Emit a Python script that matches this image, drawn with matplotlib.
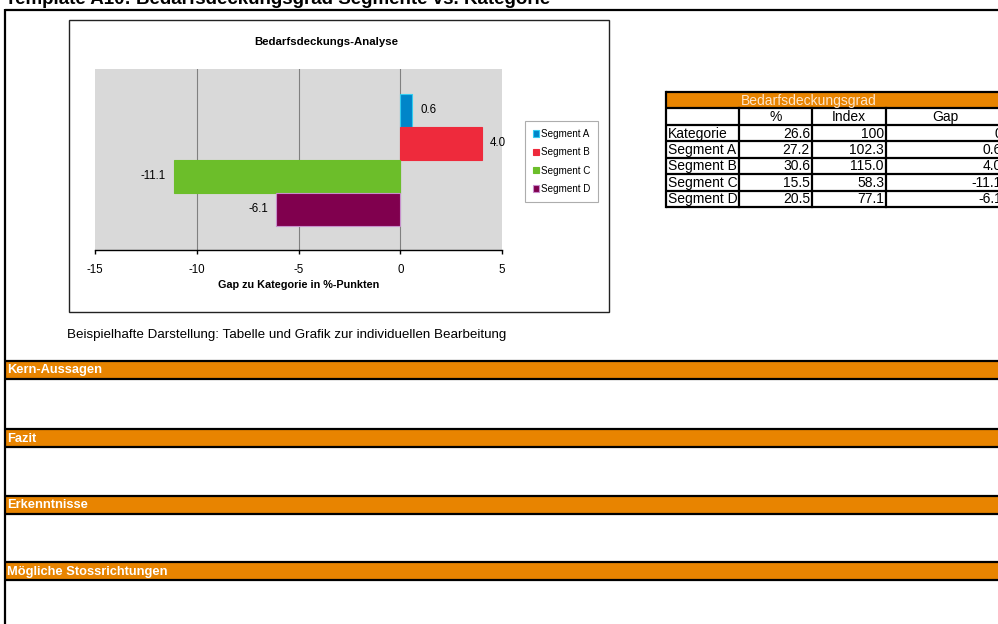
import matplotlib.pyplot as plt
from matplotlib.patches import Rectangle

plt.rcParams['font.family'] = ['Liberation Sans', 'DejaVu Sans']

# Bedarfsdeckungsgrad je Segment
segments = ['Segment A', 'Segment B', 'Segment C', 'Segment D']
gaps = [0.6, 4.0, -11.1, -6.1]
bar_colors = ['#0085c9', '#ee2a3c', '#6cbe2a', '#80004e']
edge_colors = ['#33ccf0', '#ee2a3c', '#6cbe2a', '#c890cc']

table_rows = ['Kategorie', 'Segment A', 'Segment B', 'Segment C', 'Segment D']
table_pct = ['26.6', '27.2', '30.6', '15.5', '20.5']
table_index = ['100', '102.3', '115.0', '58.3', '77.1']
table_gap = ['0', '0.6', '4.0', '-11.1', '-6.1']
table_cols = ['%', 'Index', 'Gap']

sections = ['Kern-Aussagen', 'Fazit', 'Erkenntnisse', 'Mögliche Stossrichtungen']
section_y = [361, 429, 496, 562]

ORANGE = '#e88400'
W, H = 998, 624

fig = plt.figure(figsize=(W / 100, H / 100), dpi=100)
bg = fig.add_axes([0, 0, 1, 1])
bg.set_xlim(0, W)
bg.set_ylim(H, 0)
bg.axis('off')

# Blatt-Titel und Rahmen
bg.text(5, 4.3, 'Template A10: Bedarfsdeckungsgrad Segmente vs. Kategorie',
        fontsize=13.5, fontweight='bold', va='baseline', ha='left')
bg.plot([5, W + 5], [9.5, 9.5], color='black', lw=1.6, solid_capstyle='butt')
bg.plot([5, 5], [8.5, H + 5], color='black', lw=1.6, solid_capstyle='butt')

# Diagrammrahmen
bg.add_patch(Rectangle((69, 20), 540, 292, fill=False, ec='#222222', lw=1))
bg.text(326, 42, 'Bedarfsdeckungs-Analyse', fontsize=8.2, fontweight='bold',
        ha='center', va='center')

ax = fig.add_axes([95 / W, 1 - 250 / H, (502 - 95) / W, (250 - 69) / H])
ax.set_facecolor('#d9d9d9')
h = 33 / 181
offsets = [-1.5 * h, -0.5 * h, 0.5 * h, 1.5 * h]
bars = []
for name, val, off, fc, ec in zip(segments, gaps, offsets, bar_colors, edge_colors):
    b = ax.barh(off, val, height=h, color=fc, edgecolor=ec, lw=0.8, label=name, zorder=3)
    bars.append(b)
    if val >= 0:
        ax.annotate(f'{val:.1f}', (val, off), xytext=(6, 0), textcoords='offset points',
                    ha='left', va='center', fontsize=8.3)
    else:
        ax.annotate(f'{val:.1f}', (val, off), xytext=(-6, 0), textcoords='offset points',
                    ha='right', va='center', fontsize=8.3)

ax.set_xlim(-15, 5)
ax.set_ylim(0.5, -0.5)
ax.set_xticks([-15, -10, -5, 0, 5])
ax.set_xticklabels(['-15', '-10', '-5', '0', '5'], fontsize=8.3)
ax.set_yticks([])
for x in [-10, -5, 0]:
    ax.axvline(x, color='#808080', lw=0.8, zorder=1)
for s in ['top', 'right', 'left']:
    ax.spines[s].set_visible(False)
ax.spines['bottom'].set_linewidth(1)
ax.tick_params(axis='x', length=3, width=1, pad=7)
ax.set_xlabel('Gap zu Kategorie in %-Punkten', fontsize=7.8, fontweight='bold', labelpad=3)

leg = ax.legend(handles=bars, loc='upper left', bbox_to_anchor=(525 / W, 1 - 121 / H),
                bbox_transform=fig.transFigure, fontsize=7.1, frameon=True, fancybox=False,
                edgecolor='#999999', handlelength=0.6, handleheight=0.6, handletextpad=0.2,
                labelspacing=0.85, borderpad=0.8, borderaxespad=0)
leg.get_frame().set_linewidth(0.8)

bg.text(67, 335, 'Beispielhafte Darstellung: Tabelle und Grafik zur individuellen Bearbeitung',
        fontsize=9.6, ha='left', va='center')

# Tabelle Bedarfsdeckungsgrad
col_x = [666, 739, 812, 886, 1004]
row_y = [92, 108.4, 124.9, 141.3, 157.7, 174.1, 190.6, 207]
bg.add_patch(Rectangle((col_x[0], row_y[0]), W + 10 - col_x[0], row_y[1] - row_y[0],
                       color=ORANGE, lw=0))
bg.text(col_x[1] + 2, (row_y[0] + row_y[1]) / 2 + 0.5, 'Bedarfsdeckungsgrad',
        color='#fde6cc', fontsize=10, ha='left', va='center')
for y in row_y:
    bg.plot([col_x[0], W + 10], [y, y], color='black', lw=1.6, solid_capstyle='butt')
bg.plot([col_x[0], col_x[0]], [row_y[0], row_y[-1]], color='black', lw=1.6)
for x in col_x[1:]:
    bg.plot([x, x], [row_y[1], row_y[-1]], color='black', lw=1.6)
for i, c in enumerate(table_cols):
    bg.text((col_x[i + 1] + col_x[i + 2]) / 2, (row_y[1] + row_y[2]) / 2 + 0.5, c,
            fontsize=10, ha='center', va='center')
for r, (lab, p, idx, g) in enumerate(zip(table_rows, table_pct, table_index, table_gap)):
    yc = (row_y[r + 2] + row_y[r + 3]) / 2 + 0.5
    bg.text(col_x[0] + 2, yc, lab, fontsize=10, ha='left', va='center')
    for j, v in enumerate([p, idx, g]):
        bg.text(col_x[j + 2] - 2, yc, v, fontsize=10, ha='right', va='center')

# Abschnitte
for name, y in zip(sections, section_y):
    bg.add_patch(Rectangle((5, y), W, 18, color=ORANGE, lw=0))
    bg.plot([5, W + 5], [y, y], color='black', lw=1.6, solid_capstyle='butt')
    bg.plot([5, W + 5], [y + 18, y + 18], color='black', lw=1.6, solid_capstyle='butt')
    bg.text(7, y + 9.5, name, color='white', fontsize=9.3, fontweight='bold',
            ha='left', va='center')

fig.savefig('out.png', dpi=100)
